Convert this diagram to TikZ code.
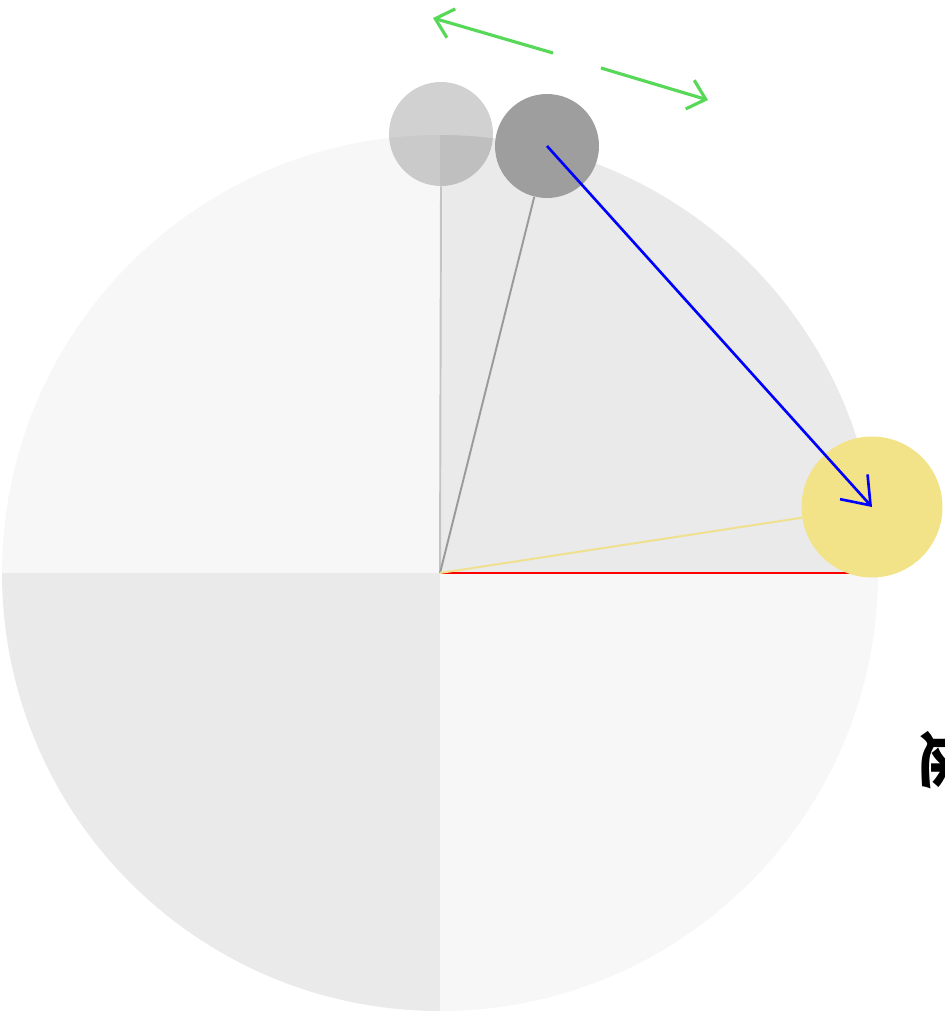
\documentclass[tikz,border=0pt]{standalone}
\usepackage{fontspec}
\newfontfamily\cjk{Noto Sans CJK SC}
\usetikzlibrary{arrows.meta,positioning,calc}
\usepackage{xcolor}

\definecolor{paleQ}{HTML}{F7F7F7}
\definecolor{darkQ}{HTML}{EAEAEA}
\definecolor{bobgray}{HTML}{9E9E9E}
\definecolor{ropegray}{HTML}{9A9A9A}
\definecolor{ghostrope}{HTML}{C4C4C4}
\definecolor{sunyellow}{HTML}{F2E388}
\definecolor{sunrope}{HTML}{F0E08C}
\definecolor{swing}{HTML}{58D858}

\begin{document}
\begin{tikzpicture}[x=0.02cm,y=-0.02cm,
    ball/.style={circle,inner sep=0pt,minimum size=2.08cm},
    rope/.style={line width=1.1pt},
    swingarrow/.style={swing,line width=1.8pt,-{Straight Barb[length=0.33cm,width=0.6cm]}}]
  \useasboundingbox (0,0) rectangle (944,1014);

  % four quarters of the disc
  \begin{scope}
    \clip (440,573) circle[radius=438];
    \fill[paleQ] (0,0) rectangle (440,573);
    \fill[darkQ] (440,0) rectangle (944,573);
    \fill[darkQ!101] (0,573) rectangle (440,1014);
    \fill[paleQ] (440,573) rectangle (944,1014);
  \end{scope}

  \coordinate (pivot) at (440,573);
  \coordinate (rim) at (878,573);

  % radius
  \draw[red,line width=1.2pt] (pivot) -- (rim);

  % balls
  \node[ball,fill=black,fill opacity=0.18] (ghost) at (441,134) {};
  \node[ball,fill=bobgray] (bob) at (547,146) {};
  \node[ball,fill=sunyellow,minimum size=2.82cm] (sun) at (872,507) {};

  % ropes
  \draw[rope,ghostrope] (pivot) -- (ghost.south);
  \draw[rope,ropegray] (pivot) -- (bob);
  \draw[rope,sunrope] (pivot) -- (sun);

  % pull towards the yellow ball
  \draw[blue,line width=1.5pt,-{Straight Barb[length=0.5cm,width=0.74cm]}] (bob.center) -- (sun.center);

  % swing
  \coordinate (swingLa) at (553,53);
  \coordinate (swingLb) at (433,18);
  \coordinate (swingRa) at (601,68);
  \coordinate (swingRb) at (708,100);
  \draw[swingarrow] (swingLa) -- (swingLb);
  \draw[swingarrow] (swingRa) -- (swingRb);

  % side label
  \node[rotate=-90,anchor=south,inner sep=0pt,font=\cjk\bfseries\fontsize{34}{34}\selectfont] (side) at (920,760) {速};
\end{tikzpicture}
\end{document}
